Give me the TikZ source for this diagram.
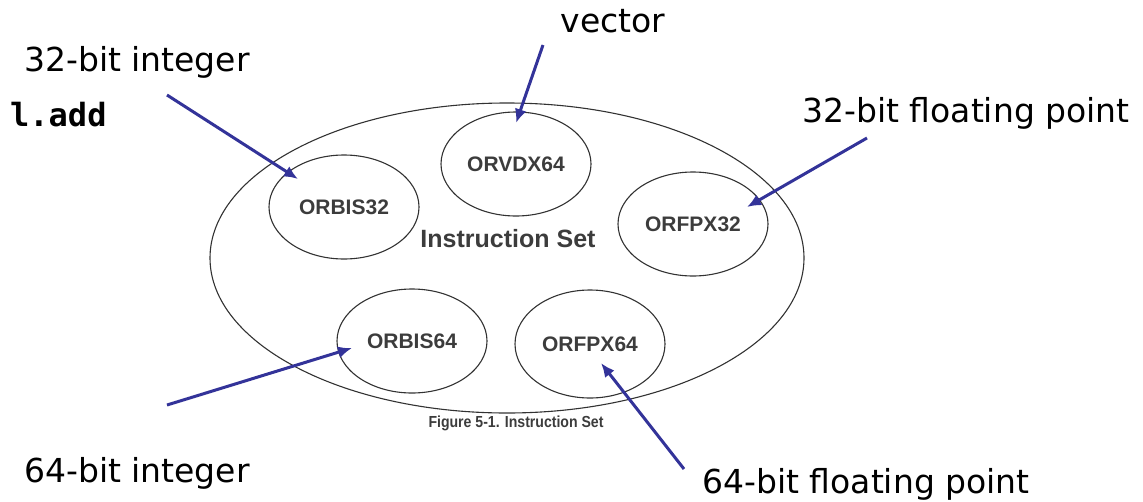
\documentclass[tikz,border=0pt]{standalone}
\usepackage{fontspec}
\setmainfont{DejaVu Sans}
\newfontfamily\arialfont{Liberation Sans}
\newfontfamily\narrowfont{Liberation Sans}[FakeStretch=0.88]
\newfontfamily\monofont{DejaVu Sans Mono}
\usetikzlibrary{shapes.geometric,arrows.meta}
\definecolor{arrowblue}{RGB}{51,51,153}
\definecolor{labelgray}{RGB}{60,60,60}
\definecolor{linegray}{RGB}{50,50,50}
\tikzset{
  setbox/.style={ellipse, draw=linegray, line width=1.1pt, minimum width=150pt, minimum height=104pt, inner sep=0pt,
     font=\arialfont\bfseries\fontsize{21}{24}\selectfont, text=labelgray},
  outer/.style={ellipse, draw=linegray, line width=1.1pt, minimum width=594pt, minimum height=310pt, inner sep=0pt},
  note/.style={font=\fontsize{33}{38}\selectfont, text=black, inner sep=0pt, anchor=base},
  pointer/.style={draw=arrowblue, line width=3pt, -{Latex[length=14pt,width=12pt]}},
}
\begin{document}
\begin{tikzpicture}[x=1pt,y=-1pt]
\useasboundingbox (0,0) rectangle (1143,501);
% outer set
\node[outer] (iset) at (507,258) {};
\node[font=\arialfont\bfseries\fontsize{25}{28}\selectfont, text=labelgray, inner sep=0pt] (isetlabel) at (508,239) {Instruction Set};
% inner sets
\node[setbox] (orbis32) at (344,207) {ORBIS32};
\node[setbox] (orvdx64) at (516,164) {ORVDX64};
\node[setbox] (orfpx32) at (693,224) {ORFPX32};
\node[setbox] (orbis64) at (412,341) {ORBIS64};
\node[setbox, minimum height=108pt] (orfpx64) at (590,344) {ORFPX64};
% caption
\node[font=\narrowfont\bfseries\fontsize{16}{18}\selectfont, text=labelgray, inner sep=0pt] (caption) at (516,423) {Figure 5-1. Instruction Set};
% annotations
\node[note] (n32i) at (137,71) {32-bit integer};
\node[note, anchor=base west, font=\monofont\bfseries\fontsize{32}{36}\selectfont] (ladd) at (10,126) {l.add};
\node[note] (nvec) at (613,32) {vector};
\node[note] (n32f) at (966,122) {32-bit floating point};
\node[note] (n64i) at (137,482) {64-bit integer};
\node[note] (n64f) at (866,493) {64-bit floating point};
% arrow ends
\coordinate (s1) at (167,95);
\coordinate (e1) at (298,179);
\coordinate (s2) at (543,45);
\coordinate (e2) at (516,123);
\coordinate (s3) at (867,138);
\coordinate (e3) at (747,207);
\coordinate (s4) at (167,405);
\coordinate (e4) at (352,348);
\coordinate (s5) at (684,469);
\coordinate (e5) at (601,363);
\draw[pointer] (s1) -- (e1);
\draw[pointer] (s2) -- (e2);
\draw[pointer] (s3) -- (e3);
\draw[pointer] (s4) -- (e4);
\draw[pointer] (s5) -- (e5);
\end{tikzpicture}
\end{document}
